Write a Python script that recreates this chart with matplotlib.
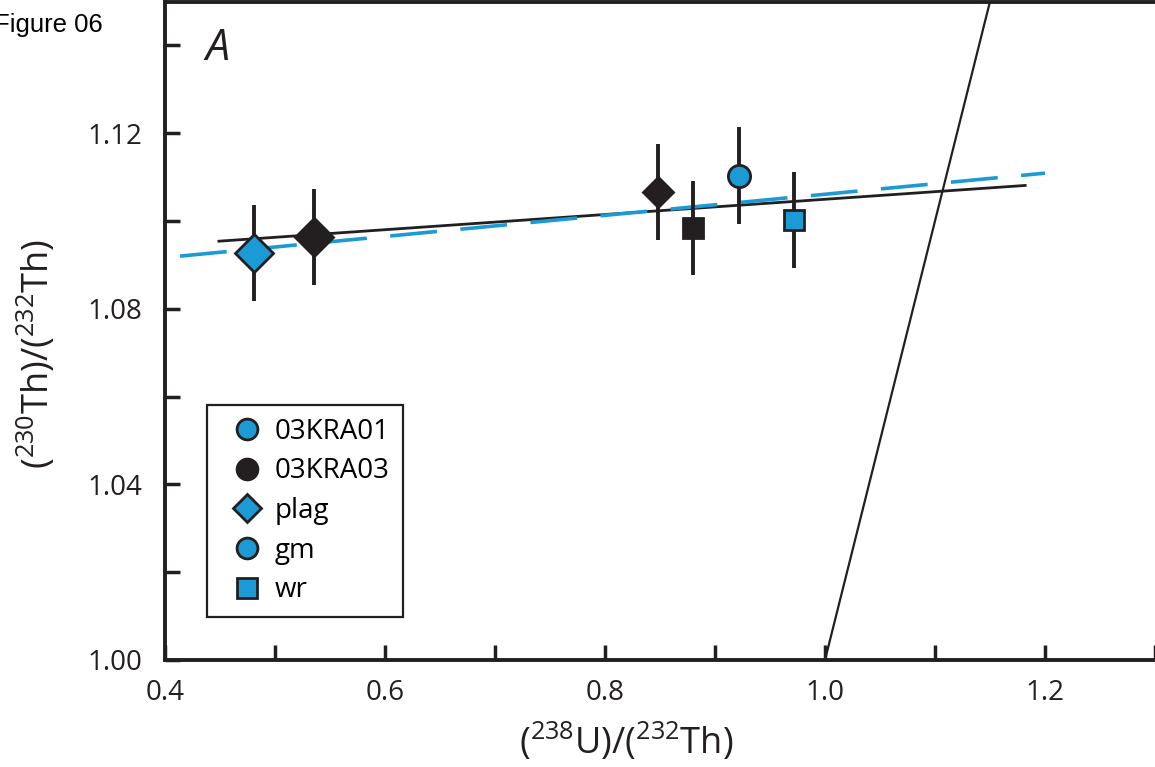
import matplotlib
matplotlib.use("Agg")
from matplotlib import pyplot as plt
from matplotlib.lines import Line2D
from matplotlib.ticker import MultipleLocator

plt.rcParams['font.family'] = ['Open Sans', 'DejaVu Sans']
plt.rcParams['mathtext.fontset'] = 'custom'
plt.rcParams['mathtext.rm'] = 'Open Sans'
plt.rcParams['mathtext.default'] = 'regular'

blue = '#1c9ad6'
black = '#231f20'

# data points: (238U)/(232Th), (230Th)/(232Th), error
pt_x = [0.481, 0.5355, 0.848, 0.880, 0.922, 0.972]
pt_y = [1.0927, 1.0964, 1.1066, 1.0984, 1.1103, 1.1002]
pt_err = [0.011, 0.011, 0.011, 0.0107, 0.011, 0.011]
pt_marker = ['D', 'D', 'D', 's', 'o', 's']
pt_color = [blue, black, black, black, blue, blue]
pt_size = [19, 19, 15.5, 15, 16, 15]

# isochron fits
fit_black_x = [0.449, 1.182]
fit_black_y = [1.0954, 1.1081]
fit_blue_x = [0.4136, 1.2]
fit_blue_y = [1.0920, 1.1109]
# equiline
eq_x = [1.0, 1.2]
eq_y = [1.0, 1.2]

fig = plt.figure(figsize=(11.55, 7.67), dpi=100)
ax = fig.add_axes([165/1155, 107/767, 990/1155, 658.5/767])

ax.plot(eq_x, eq_y, color=black, lw=1.6, zorder=2)
ax.plot(fit_black_x, fit_black_y, color=black, lw=2.0, zorder=2)
ax.plot(fit_blue_x, fit_blue_y, color=blue, lw=2.6, dashes=(13, 6.5),
        dash_capstyle='butt', zorder=2)

ax.errorbar(pt_x, pt_y, yerr=pt_err, fmt='none', ecolor=black,
            elinewidth=2.8, capsize=0, zorder=3)
for x, y, m, c, s in zip(pt_x, pt_y, pt_marker, pt_color, pt_size):
    ax.plot([x], [y], linestyle='none', marker=m, ms=s, mfc=c,
            mec=black, mew=2.0, zorder=4)

ax.set_xlim(0.4, 1.3)
ax.set_ylim(1.0, 1.15)
ax.xaxis.set_major_locator(MultipleLocator(0.2))
ax.xaxis.set_minor_locator(MultipleLocator(0.1))
ax.yaxis.set_major_locator(MultipleLocator(0.04))
ax.yaxis.set_minor_locator(MultipleLocator(0.02))
ax.xaxis.set_major_formatter(plt.FormatStrFormatter('%.1f'))
ax.yaxis.set_major_formatter(plt.FormatStrFormatter('%.2f'))
ax.tick_params(which='both', direction='in', length=11, width=2.5,
               color=black, labelsize=20, labelcolor=black)
ax.tick_params(axis='x', pad=14)
ax.tick_params(axis='y', pad=16)
ax.spines['right'].set_visible(False)
for sp in ['left', 'bottom', 'top']:
    ax.spines[sp].set_linewidth(2.8)
    ax.spines[sp].set_color(black)

ax.set_xlabel(r'($^{238}$U)/($^{232}$Th)', fontsize=26, color=black)
ax.set_ylabel(r'($^{230}$Th)/($^{232}$Th)', fontsize=26, color=black)
ax.xaxis.set_label_coords(0.466, -0.092)
ax.yaxis.set_label_coords(-0.108, 0.465)

ax.text(0.437, 1.1366, 'A', fontsize=31, style='italic', color=black)
fig.text(-0.005, 0.958, 'Figure 06', fontsize=18.5, family='Liberation Sans',
         color='black')

handles = [
    Line2D([], [], ls='none', marker='o', ms=15, mfc=blue, mec=black, mew=2),
    Line2D([], [], ls='none', marker='o', ms=15, mfc=black, mec=black, mew=2),
    Line2D([], [], ls='none', marker='D', ms=14, mfc=blue, mec=black, mew=2),
    Line2D([], [], ls='none', marker='o', ms=15, mfc=blue, mec=black, mew=2),
    Line2D([], [], ls='none', marker='s', ms=14, mfc=blue, mec=black, mew=2),
]
labels = ['03KRA01', '03KRA03', 'plag', 'gm', 'wr']
leg = ax.legend(handles, labels, loc='lower left',
                bbox_to_anchor=(0.0424, 0.0653), borderaxespad=0,
                fontsize=20, frameon=True, fancybox=False, framealpha=1,
                edgecolor=black, borderpad=0.45, handlelength=2.0,
                handletextpad=0.0, labelspacing=0.42)
leg.get_frame().set_linewidth(1.6)

fig.savefig('out.png', dpi=100)
